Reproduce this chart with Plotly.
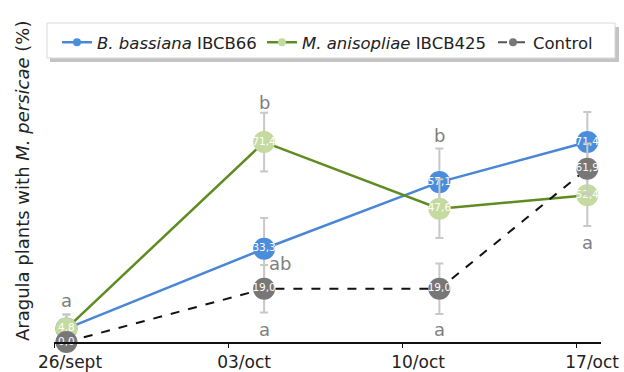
import plotly.graph_objects as go

# ---- data ----
tick_days = [0, 7, 14, 21]
tick_labels = ["26/sept", "03/oct", "10/oct", "17/oct"]
sample_days = [0.5, 8.45, 15.5, 21.45]

bassiana = [4.8, 33.3, 57.1, 71.4]
bassiana_err = [5.0, 11.0, 12.0, 10.7]
anisopliae = [4.8, 71.4, 47.6, 52.4]
anisopliae_err = [5.0, 10.5, 10.5, 11.0]
control = [0.0, 19.0, 19.0, 61.9]
control_err = [0.0, 8.5, 9.0, 9.0]

letters = ["a", "b", "ab", "a", "b", "a", "a"]
letter_days = [0.5, 8.45, 9.1, 8.45, 15.5, 15.5, 21.45]
letter_y = [15.0, 85.7, 28.2, 4.6, 73.9, 4.6, 35.7]

series_names = ["<i>B. bassiana</i> IBCB66", "<i>M. anisopliae</i> IBCB425", "Control"]

FONT = "DejaVu Sans"
W, H = 624, 372
ML, MR, MT, MB = 54, 23, 62, 30
PW, PH = W - ML - MR, H - MT - MB


def fmt(v):
    return f"{v:.1f}".replace(".", ",")


def px_x(p):
    return (p - ML) / PW


def px_y(p):
    return (H - MB - p) / PH


fig = go.Figure()

specs = [
    (bassiana, bassiana_err, series_names[0], "#4a86d6", "#4a8ddc", "solid", 2.5),
    (anisopliae, anisopliae_err, series_names[1], "#5e8c21", "#c4da9e", "solid", 2.5),
    (control, control_err, series_names[2], "#111111", "#777777", "dash", 2),
]

for vals, errs, name, lcol, mcol, dash, lw in specs:
    fig.add_trace(go.Scatter(
        x=sample_days, y=vals, name=name, showlegend=False,
        mode="lines+markers+text",
        text=[fmt(v) for v in vals],
        textposition="middle center",
        textfont=dict(color="white", size=10.5, family=FONT),
        line=dict(color=lcol, width=lw, dash=dash),
        marker=dict(size=22, color=mcol, line=dict(width=0)),
        error_y=dict(type="data", array=errs, visible=True,
                     color="#c8c8c8", thickness=2, width=4),
        cliponaxis=False,
    ))

# legend-only entries with small markers, each in its own positioned legend
legend_ids = ["legend", "legend2", "legend3"]
legend_px = [57, 262, 493]
for (vals, errs, name, lcol, mcol, dash, lw), lid in zip(specs, legend_ids):
    fig.add_trace(go.Scatter(
        x=[None], y=[None], name=name, mode="lines+markers", legend=lid,
        line=dict(color=lcol if dash == "solid" else "#555555", width=lw, dash=dash),
        marker=dict(size=8, color=mcol if dash == "solid" else "#777777"),
    ))

for t, xd, yd in zip(letters, letter_days, letter_y):
    fig.add_annotation(x=xd, y=yd, text=t, showarrow=False,
                       font=dict(color="#7f7f7f", size=18, family=FONT))

fig.add_annotation(
    xref="paper", yref="paper", x=px_x(22), y=px_y(181),
    text="Aragula plants with <i>M. persicae</i> (%)",
    textangle=-90, showarrow=False, xanchor="center", yanchor="middle",
    font=dict(size=18, family=FONT, color="#222222"),
)

# legend box with shadow (drawn as shapes)
fig.add_shape(type="rect", xref="paper", yref="paper",
              x0=px_x(50), x1=px_x(619), y0=px_y(62), y1=px_y(27),
              fillcolor="#c4c4c4", line=dict(width=0), layer="above")
fig.add_shape(type="rect", xref="paper", yref="paper",
              x0=px_x(47), x1=px_x(615), y0=px_y(58), y1=px_y(23),
              fillcolor="white", line=dict(width=1, color="#d8d8d8"), layer="above")

legend_style = dict(orientation="h", xanchor="left", yanchor="top",
                    bgcolor="rgba(0,0,0,0)", borderwidth=0,
                    font=dict(size=16.5, family=FONT, color="#222222"),
                    itemwidth=30, tracegroupgap=0)

fig.update_layout(
    width=W, height=H,
    margin=dict(l=ML, r=MR, t=MT, b=MB, autoexpand=False),
    paper_bgcolor="white", plot_bgcolor="white",
    font=dict(family=FONT, size=16, color="#222222"),
    showlegend=True,
    xaxis=dict(range=[0, 22], tickvals=tick_days, ticktext=tick_labels,
               showgrid=False, zeroline=False, showline=True, linecolor="#111111",
               linewidth=1.5, ticks="outside", ticklen=4, tickcolor="#111111",
               ticklabelshift=16, automargin=False,
               tickfont=dict(size=17, family=FONT, color="#222222")),
    yaxis=dict(range=[0, 100], showgrid=False, zeroline=False, showline=False,
               showticklabels=False, ticks="", automargin=False),
)
for lid, lx in zip(legend_ids, legend_px):
    fig.update_layout({lid: dict(legend_style, x=px_x(lx), y=px_y(25))})

fig.write_html("out.html", config={"displayModeBar": False},
               post_script="document.body.style.margin='0';document.body.style.overflow='hidden';")
